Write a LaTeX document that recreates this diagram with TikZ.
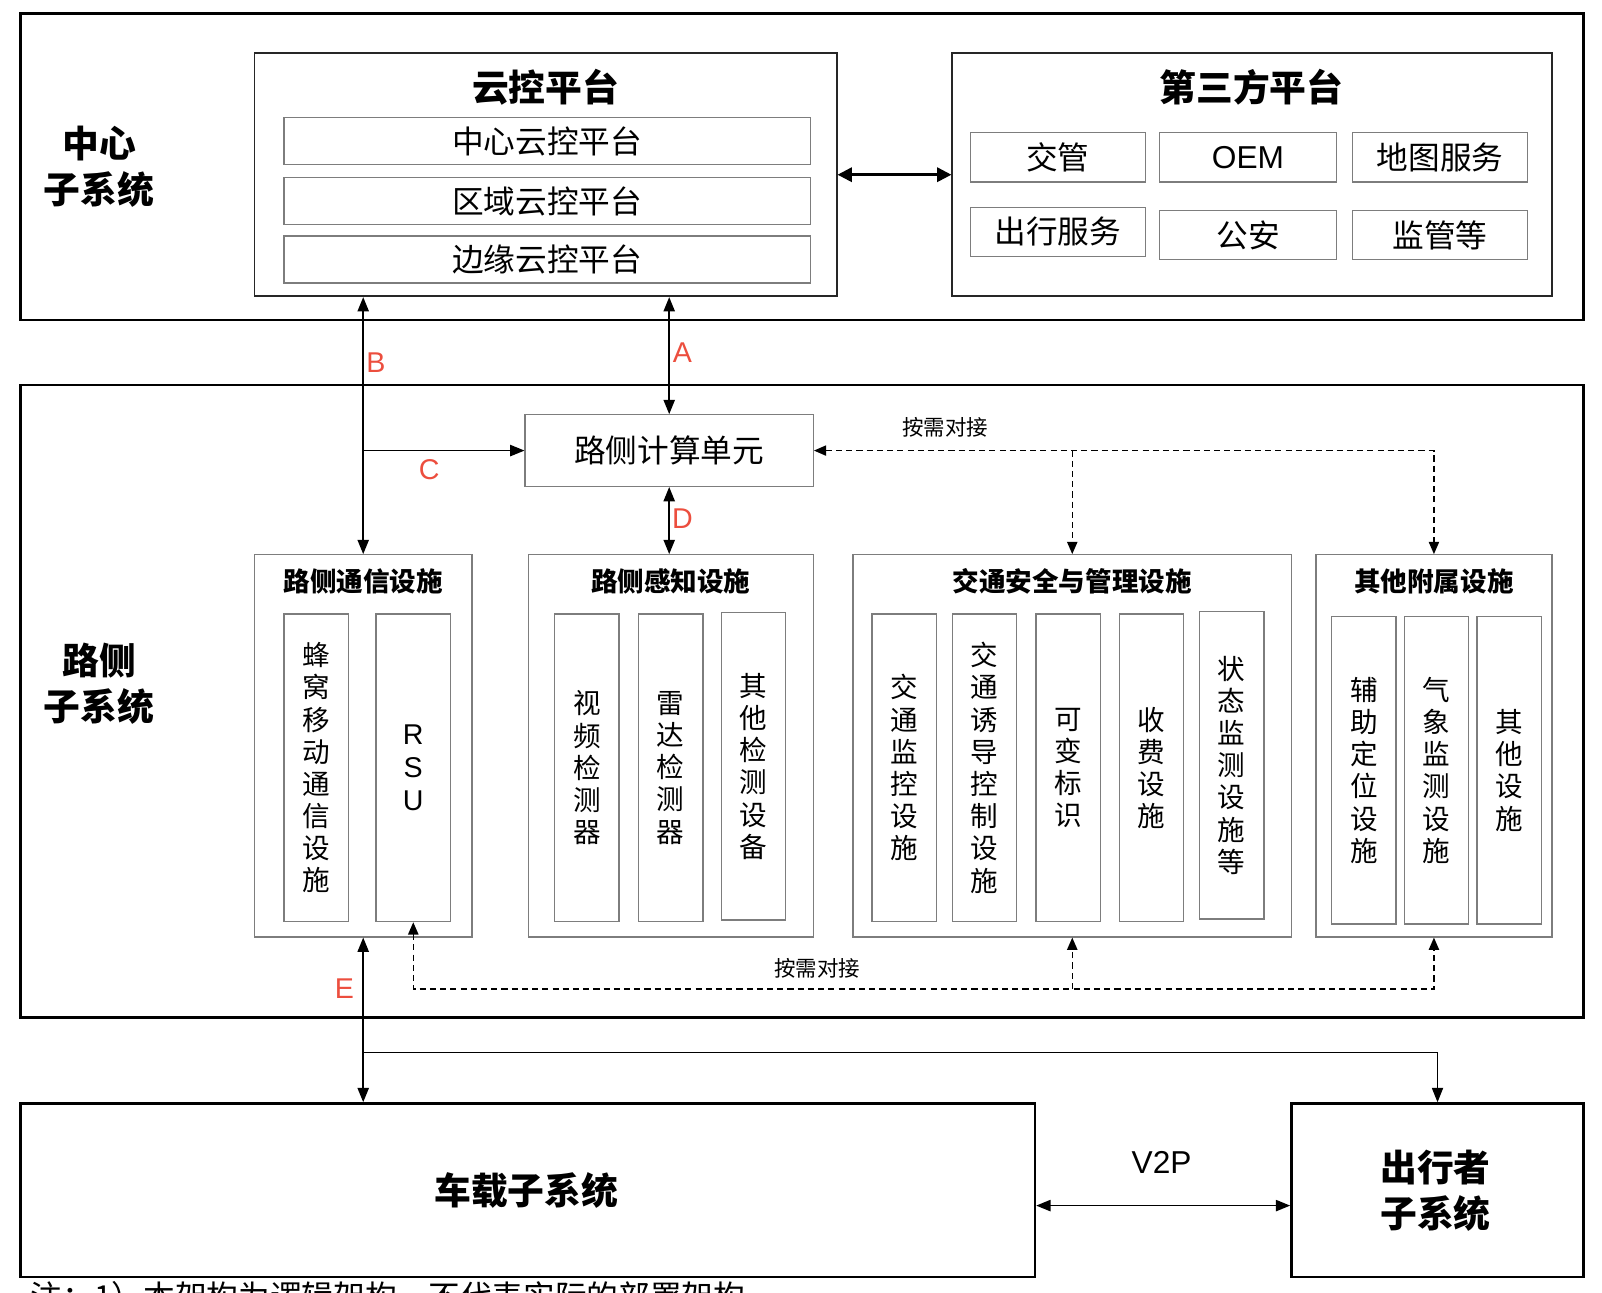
\documentclass[tikz,border=0pt]{standalone}
\usepackage{fontspec}
\setmainfont{Noto Sans CJK SC}
\newfontfamily\latinfont{Liberation Sans}
\usetikzlibrary{arrows.meta, positioning}
\definecolor{tagred}{RGB}{236,78,62}
\definecolor{boxgray}{RGB}{125,125,125}

\begin{document}
\begin{tikzpicture}[x=1pt, y=-1pt, >={Triangle[length=14pt, width=11pt]},
    frame/.style={draw, line width=2.4pt, inner sep=0pt},
    platform/.style={draw=black!85, line width=1.6pt, inner sep=0pt},
    item/.style={draw=boxgray, line width=1.3pt, inner sep=0pt, font=\fontsize{31}{36}\selectfont},
    column/.style={draw=boxgray, line width=1.3pt, inner sep=0pt, minimum width=63pt, minimum height=301pt, align=center, font=\fontsize{27}{31.5}\selectfont},
    bigtitle/.style={align=center, inner sep=0pt, font=\fontsize{36}{45}\selectfont\bfseries},
    subtitle/.style={inner sep=0pt, font=\fontsize{26}{30}\selectfont\bfseries},
    tag/.style={inner sep=0pt, text=tagred, font=\latinfont\fontsize{28}{32}\selectfont},
    note/.style={inner sep=0pt, font=\fontsize{21}{24}\selectfont},
    link/.style={line width=1.6pt},
    ondemand/.style={line width=1.5pt, dash pattern=on 6pt off 4pt, >={Triangle[length=12pt, width=10pt]}}]
  \useasboundingbox (0,0) rectangle (1568,1264.6);

  % centre subsystem
  \node (centre) [frame, minimum width=1530pt, minimum height=300pt] at (785,163) {};
  \node (centrelbl) [bigtitle] at (97,163) {中心\\子系统};
  \node (cloud) [platform, minimum width=570pt, minimum height=238pt] at (534,171) {};
  \node (cloudlbl) [bigtitle] at (534,85) {云控平台};
  \node (central) [item, minimum width=515pt, minimum height=46pt] at (535.5,138) {中心云控平台};
  \node (regional) [item, minimum width=515pt, minimum height=46pt] at (535.5,197) {区域云控平台};
  \node (edge) [item, minimum width=515pt, minimum height=46pt] at (535.5,254) {边缘云控平台};
  \node (third) [platform, minimum width=587pt, minimum height=238pt] at (1225.5,171) {};
  \node (thirdlbl) [bigtitle] at (1225,85) {第三方平台};
  \node (police) [item, minimum width=171pt, minimum height=48pt] at (1035.5,154) {交管};
  \node (oem) [item, minimum width=173pt, minimum height=48pt, font=\latinfont\fontsize{31}{36}\selectfont] at (1221.5,154) {OEM};
  \node (maps) [item, minimum width=171pt, minimum height=48pt] at (1409.5,154) {地图服务};
  \node (mobility) [item, minimum width=171pt, minimum height=48pt] at (1035.5,227) {出行服务};
  \node (security) [item, minimum width=173pt, minimum height=48pt] at (1221.5,230) {公安};
  \node (supervise) [item, minimum width=171pt, minimum height=48pt] at (1409.5,230) {监管等};

  % roadside subsystem
  \node (road) [frame, minimum width=1530pt, minimum height=619pt] at (785,686.5) {};
  \node (roadlbl) [bigtitle] at (97,669) {路侧\\子系统};
  \node (rcu) [item, minimum width=282pt, minimum height=70pt] at (655,441) {路侧计算单元};

  \node (comm) [item, minimum width=213pt, minimum height=374pt] at (355.5,730) {};
  \node (sense) [item, minimum width=279pt, minimum height=374pt] at (656.5,730) {};
  \node (safety) [item, minimum width=429pt, minimum height=374pt] at (1049.5,730) {};
  \node (other) [item, minimum width=231pt, minimum height=374pt] at (1403.5,730) {};
  \node (commlbl) [subtitle] at (355.5,569) {路侧通信设施};
  \node (senselbl) [subtitle] at (656.5,569) {路侧感知设施};
  \node (safetylbl) [subtitle] at (1049.5,569) {交通安全与管理设施};
  \node (otherlbl) [subtitle] at (1403.5,569) {其他附属设施};

  \node (cellular) [column] at (309.5,751.5) {蜂\\窝\\移\\动\\通\\信\\设\\施};
  \node (rsu) [column, minimum width=73pt, font=\latinfont\fontsize{28}{32}\selectfont] at (404.5,751.5) {R\\S\\U};
  \node (video) [column] at (574.5,751.5) {视\\频\\检\\测\\器};
  \node (radar) [column] at (656.5,751.5) {雷\\达\\检\\测\\器};
  \node (detector) [column] at (737.5,750) {其\\他\\检\\测\\设\\备};
  \node (monitor) [column] at (885,751.5) {交\\通\\监\\控\\设\\施};
  \node (guidance) [column] at (963.5,751.5) {交\\通\\诱\\导\\控\\制\\设\\施};
  \node (sign) [column] at (1045.5,751.5) {可\\变\\标\\识};
  \node (toll) [column] at (1127,751.5) {收\\费\\设\\施};
  \node (status) [column] at (1205.5,749) {状\\态\\监\\测\\设\\施\\等};
  \node (position) [column] at (1335,754) {辅\\助\\定\\位\\设\\施};
  \node (weather) [column] at (1406,754) {气\\象\\监\\测\\设\\施};
  \node (misc) [column] at (1477,754) {其\\他\\设\\施};

  % vehicle and traveller subsystems
  \node (vehicle) [frame, minimum width=993pt, minimum height=170pt] at (516.5,1165) {};
  \node (vehiclelbl) [bigtitle] at (515,1165) {车载子系统};
  \node (traveller) [frame, minimum width=286pt, minimum height=170pt] at (1407,1165) {};
  \node (travellerlbl) [bigtitle] at (1405,1165) {出行者\\子系统};

  % links
  \draw [<->, line width=2.4pt, >={Triangle[length=14pt, width=14pt]}] (cloud.east) -- (third.west);
  \draw [<->, link] (rcu.north) -- (rcu.north |- cloud.south);
  \draw [<->, link] (comm.north) -- (comm.north |- cloud.south);
  \coordinate (cjoin) at (comm.north |- rcu.west);
  \draw [->, link] (cjoin) -- (rcu.west);
  \draw [<->, link] (rcu.south) -- (rcu.south |- sense.north);
  \draw [<->, link] (comm.south) -- (comm.south |- vehicle.north);
  \coordinate (ejoin) at (355.5,1030);
  \draw [->, line width=1pt] (ejoin) -| (traveller.north);
  \draw [<->, link] ([yshift=-15pt]vehicle.east) -- ([yshift=-15pt]traveller.west);

  \draw [<->, ondemand] (rcu.east) -| (other.north);
  \draw [->, ondemand] (safety.north |- rcu.east) -- (safety.north);
  \coordinate (djoin) at (404.5,968);
  \draw [<->, ondemand] (rsu.south) -- (djoin) -| (other.south);
  \draw [->, ondemand] (safety.south |- djoin) -- (safety.south);

  % link labels
  \node (taga) [tag] at (668,345) {A};
  \node (tagb) [tag] at (368,355) {B};
  \node (tagc) [tag] at (420,460) {C};
  \node (tagd) [tag] at (668,508) {D};
  \node (tage) [tag] at (337,968) {E};
  \node (ondemandtop) [note] at (925,418) {按需对接};
  \node (ondemandbot) [note] at (800,948) {按需对接};
  \node (v2p) [inner sep=0pt, font=\latinfont\fontsize{31}{36}\selectfont] at (1137,1138) {V2P};

  \node (caption) [anchor=north west, inner sep=0pt, font=\fontsize{31}{36}\selectfont] at (30,1254) {注：1）本架构为逻辑架构，不代表实际的部署架构};
\end{tikzpicture}
\end{document}
